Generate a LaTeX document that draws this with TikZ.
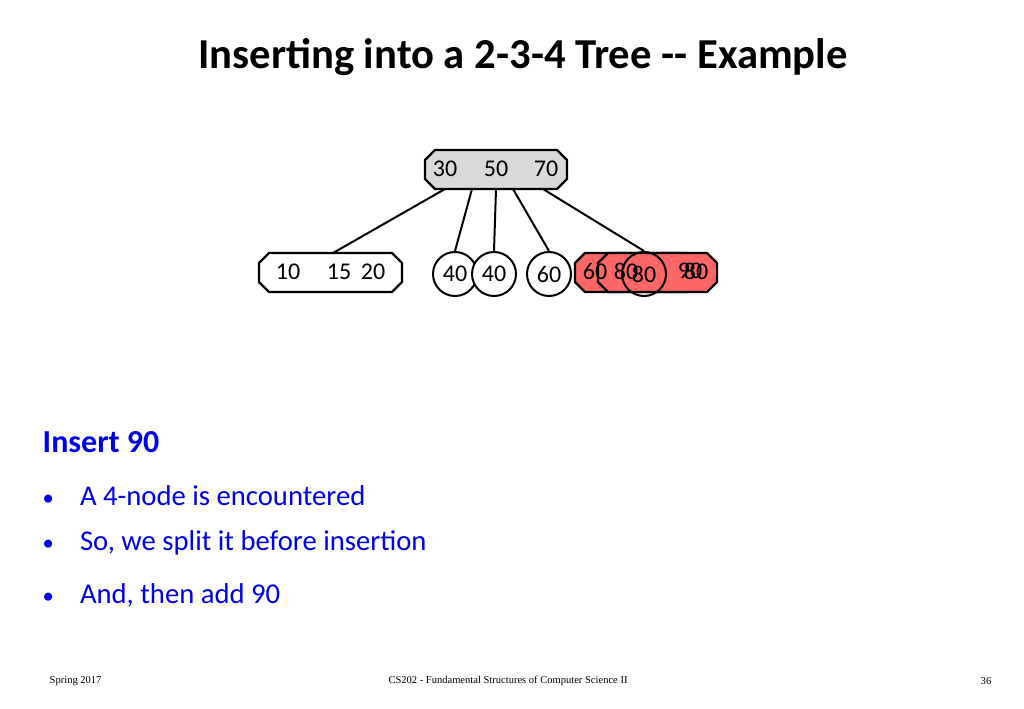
\documentclass[tikz,border=0pt]{standalone}
\usepackage{fontspec}
\setmainfont{Carlito}
\newfontfamily\footfont{Liberation Serif}
\definecolor{rootgray}{RGB}{217,217,217}
\definecolor{splitred}{RGB}{255,102,102}
\definecolor{textblue}{RGB}{0,0,230}
% octagonal box: corners (x1,y1) (x2,y2), fill colour
\newcommand{\octbox}[5]{%
  \filldraw[fill=#5, draw=black, line width=1.8pt]
    (#1+10,#2) -- (#3-10,#2) -- (#3,#2+10) -- (#3,#4-10) -- (#3-10,#4)
    -- (#1+10,#4) -- (#1,#4-10) -- (#1,#2+10) -- cycle;}
\tikzset{
  leafcirc/.style={circle, draw=black, fill=white, line width=1.5pt, minimum size=33pt, inner sep=0pt},
  num/.style={font=\fontsize{18}{18}\selectfont},
  bullet/.style={anchor=west, text=textblue, font=\fontsize{21.5}{21.5}\selectfont},
  foot/.style={font=\footfont\fontsize{7.9}{7.9}\selectfont},
}
\begin{document}
\begin{tikzpicture}[x=0.75pt, y=-0.75pt]
    \useasboundingbox (0,0) rectangle (1024,709);
    % title
    \node[font=\bfseries\fontsize{32}{32}\selectfont] (title) at (523,57) {Inserting into a 2-3-4 Tree {-}{-} Example};

    % root and leaves
    \octbox{425}{150}{567}{189}{rootgray}
    \node[num] (r30) at (445,169) {30};
    \node[num] (r50) at (496,169) {50};
    \node[num] (r70) at (546,169) {70};

    \octbox{259}{253}{402}{292}{white}
    \node[num] (l10) at (288,272) {10};
    \node[num] (l15) at (339,272) {15};
    \node[num] (l20) at (373,272) {20};

    \node[leafcirc] (c40a) at (455,274) {};
    \node[leafcirc] (c40b) at (494,274) {};
    \node[leafcirc] (c60) at (549,274) {};
    \node[num] at (c40a) {40};
    \node[num] at (c40b) {40};
    \node[num] at (c60) {60};

    % the 4-node being split
    \octbox{575}{253}{697}{292}{splitred}
    \octbox{598}{253}{717}{292}{splitred}
    \node[num] (n60) at (595,271) {60};
    \node[num] (n80) at (626,271) {80};
    \node[num] (n90) at (690,271) {90};
    \node[num] (n80b) at (696,271) {80};
    \node[leafcirc, fill=none] (c80) at (644,274) {};
    \node[num] at (c80) {80};

    % links
    \draw[line width=1.5pt] (445,189) -- (333,253);
    \draw[line width=1.5pt] (472,189) -- (c40a.north);
    \draw[line width=1.5pt] (496,189) -- (c40b.north);
    \draw[line width=1.5pt] (513,189) -- (c60.north);
    \draw[line width=1.5pt] (543,189) -- (c80.north);

    % text
    \node[bullet, font=\bfseries\fontsize{24}{24}\selectfont] (head) at (38,442) {Insert 90};
    \node[bullet] (b1) at (38,496) {\makebox[28pt][l]{\fontsize{17}{17}\selectfont•}A 4-node is encountered};
    \node[bullet] (b2) at (38,543) {\makebox[28pt][l]{\fontsize{17}{17}\selectfont•}So, we split it before insertion};
    \node[bullet] (b3) at (38,595) {\makebox[28pt][l]{\fontsize{17}{17}\selectfont•}And, then add 90};

    % footer
    \node[foot, anchor=west] (f1) at (45,681) {Spring 2017};
    \node[foot] (f2) at (508,681) {CS202 - Fundamental Structures of Computer Science II};
    \node[foot] (f3) at (986,681) {36};
\end{tikzpicture}
\end{document}
